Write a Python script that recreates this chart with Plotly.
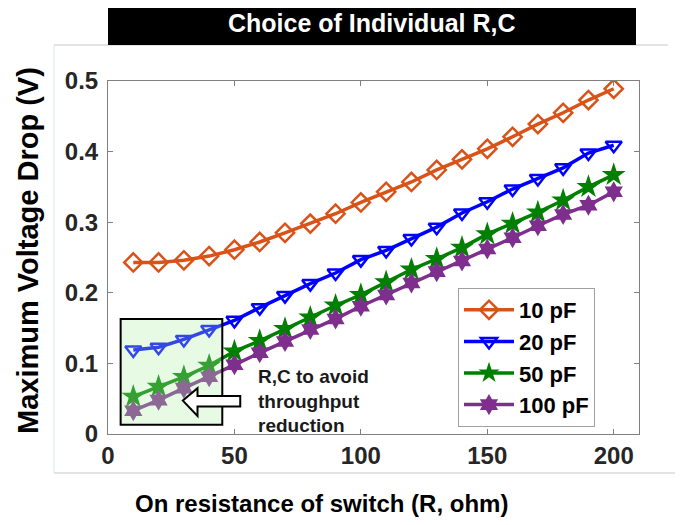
import plotly.graph_objects as go

# ---- data ----
R_ohm = [10, 20, 30, 40, 50, 60, 70, 80, 90, 100, 110, 120, 130, 140, 150, 160, 170, 180, 190, 200]
c10pF = [0.243, 0.243, 0.246, 0.252, 0.261, 0.272, 0.285, 0.298, 0.312, 0.328,
         0.343, 0.357, 0.374, 0.389, 0.404, 0.421, 0.439, 0.455, 0.473, 0.489]
c20pF = [0.119, 0.123, 0.134, 0.148, 0.161, 0.179, 0.196, 0.213, 0.228, 0.247,
         0.260, 0.277, 0.293, 0.313, 0.329, 0.347, 0.362, 0.377, 0.398, 0.409]
c50pF = [0.053, 0.067, 0.081, 0.097, 0.117, 0.132, 0.149, 0.165, 0.182, 0.197,
         0.215, 0.233, 0.248, 0.264, 0.283, 0.298, 0.314, 0.331, 0.350, 0.367]
c100pF = [0.033, 0.048, 0.065, 0.081, 0.098, 0.115, 0.131, 0.148, 0.163, 0.181,
          0.197, 0.214, 0.230, 0.245, 0.262, 0.278, 0.295, 0.311, 0.324, 0.343]
series_names = ["10 pF", "20 pF", "50 pF", "100 pF"]
x_ticks = [0, 50, 100, 150, 200]
y_ticks = [0, 0.1, 0.2, 0.3, 0.4, 0.5]
y_ticktext = ["0", "0.1", "0.2", "0.3", "0.4", "0.5"]

FONT = "Liberation Sans, Arial, sans-serif"
OFF = 8  # page body offset compensation (px)
L, T, PW, PH = 108 - OFF, 81 - OFF, 531, 353
W, H = 683, 525


def px(xpix):
    return (xpix - 108) / PW


def py(ypix):
    return (434 - ypix) / PH


fig = go.Figure()

styles = [
    dict(color="#D95319", symbol="diamond-open", size=14, fill=False),
    dict(color="#0000FF", symbol="triangle-down-open", size=14, fill=False),
    dict(color="#008000", symbol="star", size=18, fill=True),
    dict(color="#7E2F8E", symbol="hexagram", size=16, fill=True),
]
for name, ys, st in zip(series_names, [c10pF, c20pF, c50pF, c100pF], styles):
    fig.add_trace(go.Scatter(
        x=R_ohm, y=ys, name=name, mode="lines+markers",
        line=dict(color=st["color"], width=3.5),
        marker=dict(symbol=st["symbol"], size=st["size"], color=st["color"],
                    line=dict(color=st["color"], width=2.5 if not st["fill"] else 0)),
    ))

fig.update_layout(
    width=W, height=H,
    margin=dict(l=L, r=W - L - PW, t=T, b=H - T - PH, autoexpand=False),
    plot_bgcolor="white", paper_bgcolor="white",
    font=dict(family=FONT, color="#262626"),
    showlegend=True,
    legend=dict(x=px(458), y=py(288), xanchor="left", yanchor="top",
                bgcolor="white", bordercolor="#A0A0A0", borderwidth=1,
                font=dict(family=FONT, size=22, color="#000000", weight="bold"),
                tracegroupgap=0, itemwidth=50),
    xaxis=dict(range=[0, 210], tickvals=x_ticks, ticks="inside", ticklen=5,
               tickcolor="#808080", showline=True, linecolor="#808080", linewidth=1,
               mirror="ticks", showgrid=False, zeroline=False, automargin=False,
               tickfont=dict(family=FONT, size=24, color="#262626", weight="bold")),
    yaxis=dict(range=[0, 0.5], tickvals=y_ticks, ticktext=y_ticktext, ticks="inside", ticklen=5,
               tickcolor="#808080", showline=True, linecolor="#808080", linewidth=1,
               mirror="ticks", showgrid=False, zeroline=False, ticklabelstandoff=4,
               automargin=False,
               tickfont=dict(family=FONT, size=24, color="#262626", weight="bold")),
)

# highlighted region and arrow
fig.add_shape(type="rect", xref="x", yref="y", x0=5, x1=45.2, y0=0.013, y1=0.163,
              fillcolor="rgba(172,238,165,0.3)", line=dict(color="black", width=2), layer="above")
fig.add_shape(type="path", xref="x", yref="y",
              path="M 29.6,0.0473 L 35.4,0.0649 L 35.4,0.0540 L 52.3,0.0540 L 52.3,0.0388 "
                   "L 35.4,0.0388 L 35.4,0.0256 Z",
              fillcolor="white", line=dict(color="black", width=2), layer="above")

# slide decorations
fig.add_shape(type="line", xref="paper", yref="paper", x0=px(54), x1=px(668),
              y0=py(45), y1=py(45), line=dict(color="#C8C8C8", width=1))
fig.add_shape(type="line", xref="paper", yref="paper", x0=px(54), x1=px(54),
              y0=py(45), y1=py(473), line=dict(color="#DDE6EE", width=1))
fig.add_shape(type="line", xref="paper", yref="paper", x0=px(54), x1=px(690),
              y0=py(473), y1=py(473), line=dict(color="#C8C8C8", width=1))
# title bar
fig.add_shape(type="rect", xref="paper", yref="paper", x0=px(108), x1=px(636),
              y0=py(45), y1=py(1), fillcolor="black", line=dict(width=0))

fig.add_annotation(text="Choice of Individual R,C", xref="paper", yref="paper",
                   x=px(372), y=py(23), showarrow=False,
                   xanchor="center", yanchor="middle",
                   font=dict(family=FONT, size=25, color="white", weight="bold"))
fig.add_annotation(text="R,C to avoid<br>throughput<br>reduction", xref="paper", yref="paper",
                   x=px(256), y=py(401), showarrow=False,
                   xanchor="left", yanchor="middle", align="left",
                   font=dict(family=FONT, size=19, color="#1A1A1A", weight="bold"))
fig.add_annotation(text="Maximum Voltage Drop (V)", xref="paper", yref="paper",
                   x=px(28), y=py(251), showarrow=False, textangle=-90,
                   xanchor="center", yanchor="middle",
                   font=dict(family=FONT, size=29, color="#000000", weight="bold"))
fig.add_annotation(text="On resistance of switch (R, ohm)", xref="paper", yref="paper",
                   x=px(321), y=py(503), showarrow=False,
                   xanchor="center", yanchor="middle",
                   font=dict(family=FONT, size=24, color="#000000", weight="bold"))

fig.write_html("out.html")
